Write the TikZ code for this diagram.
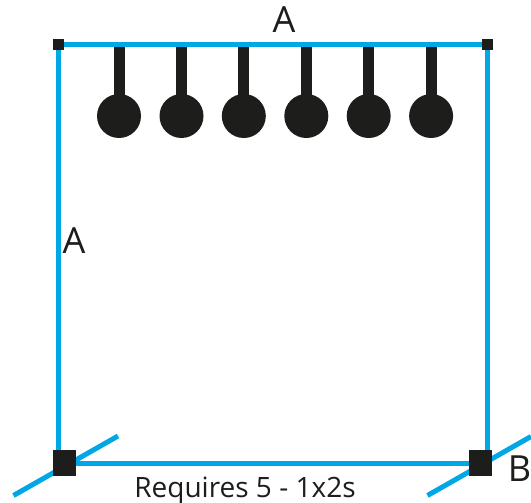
\documentclass[tikz,border=0pt]{standalone}
\usepackage{fontspec}
\setmainfont{Open Sans}
\usepackage{xcolor}
\usetikzlibrary{positioning}
\definecolor{frameblue}{HTML}{00A7E7}
\definecolor{darkink}{HTML}{1D1D1B}

\begin{document}
\begin{tikzpicture}[
        x=1pt, y=-1pt,
        rail/.style={line width=5pt, draw=frameblue},
        stem/.style={line width=11pt, draw=darkink},
        ball/.style={circle, fill=darkink, inner sep=0pt, minimum size=44pt},
        smallsq/.style={rectangle, fill=darkink, inner sep=0pt, minimum size=11pt},
        bigsq/.style={rectangle, fill=darkink, inner sep=0pt, minimum width=23pt, minimum height=26pt},
        lbl/.style={inner sep=0pt, anchor=base, text=darkink, font=\fontsize{36}{36}\selectfont},
        note/.style={inner sep=0pt, anchor=base, text=darkink, font=\fontsize{28}{28}\selectfont}
    ]
        \useasboundingbox (0,0) rectangle (531,503);

        % diagonal bars go under the big squares
        \coordinate (leftlow) at (13.5,495.5);
        \coordinate (lefthigh) at (118,436);
        \coordinate (rightlow) at (427.5,495.5);
        \coordinate (righthigh) at (531,436.5);
        \draw[rail] (leftlow) -- (lefthigh);
        \draw[rail] (rightlow) -- (righthigh);

        \node[smallsq] (topleft) at (58.5,44.5) {};
        \node[smallsq] (topright) at (487.5,44.5) {};
        \node[bigsq] (botleft) at (64.5,463.3) {};
        \node[bigsq] (botright) at (480.5,463.3) {};

        % hanging weights
        \foreach \i/\xpos in {1/119, 2/181.5, 3/243.8, 4/306.3, 5/368.7, 6/431.1} {
            \node[ball] (ball\i) at (\xpos,116) {};
            \draw[stem] (ball\i.center) -- (ball\i.center |- topleft);
        }

        \draw[rail] (topleft) -- (topright);
        \draw[rail] (topleft) -- (topleft |- botleft.north);
        \draw[rail] (topright) -- (topright |- botright.north);
        \draw[rail] (botleft) -- (botright);

        \node[lbl] (toplabel) at (284,32.5) {A};
        \node[lbl] (sidelabel) at (74,253) {A};
        \node[lbl] (blabel) at (519.5,481) {B};
        \node[note] (reqlabel) at (245,497) {Requires 5 - 1x2s};
    \end{tikzpicture}
\end{document}
